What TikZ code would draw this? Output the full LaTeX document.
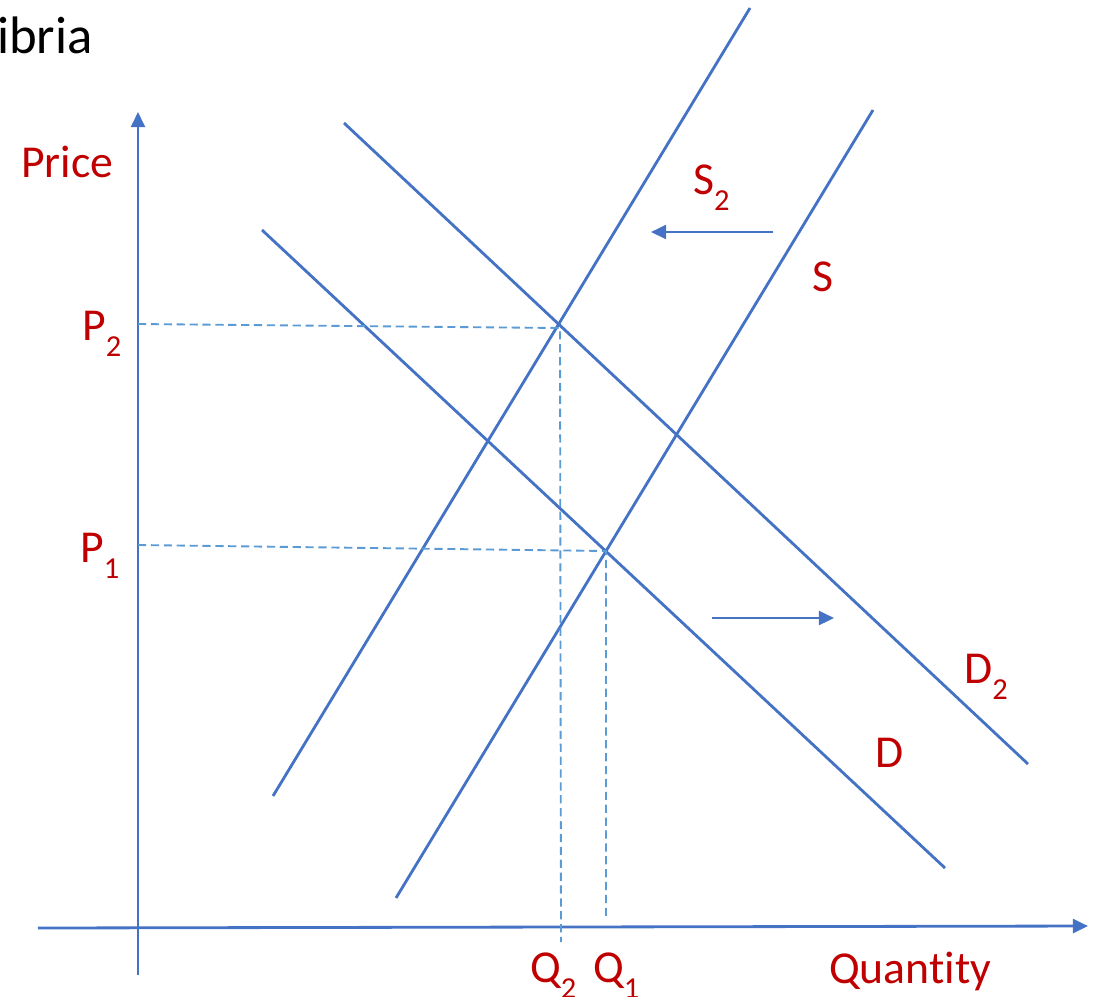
\documentclass[tikz,border=0pt]{standalone}
\usepackage{fontspec}
\setmainfont[Ligatures=NoCommon]{Carlito}
\usetikzlibrary{arrows.meta}
\definecolor{lineblue}{HTML}{4472C4}
\definecolor{dashblue}{HTML}{5B9BD5}
\definecolor{lab}{HTML}{C00000}
\newcommand{\mysub}[1]{\raisebox{-0.36em}{\fontsize{26}{26}\selectfont #1}}
\begin{document}
\begin{tikzpicture}[x=0.03cm,y=-0.03cm,
  curve/.style={draw=lineblue,line width=2.4pt},
  axis/.style={draw=lineblue,line width=2.4pt,-{Triangle[length=13pt,width=12pt]}},
  shiftarrow/.style={draw=lineblue,line width=2.4pt,-{Triangle[length=13pt,width=12pt]}},
  guide/.style={draw=dashblue,line width=1.6pt,dash pattern=on 7pt off 4pt},
  lbl/.style={text=lab,font=\fontsize{39}{39}\selectfont,inner sep=0pt,anchor=base west}]
\useasboundingbox (0,0) rectangle (1094,996);
% axes
\coordinate (yb) at (138,975); \coordinate (yt) at (138,112);
\coordinate (xl) at (38,928); \coordinate (xr) at (1088,926);
\draw[axis] (yb) -- (yt);
\draw[axis] (xl) -- (xr);
% curves
\coordinate (s2a) at (273,796); \coordinate (s2b) at (750,8);
\coordinate (sa) at (396,898); \coordinate (sb) at (873,110);
\coordinate (d2a) at (344,123); \coordinate (d2b) at (1028,764);
\coordinate (da) at (262,230); \coordinate (db) at (945,868);
\draw[curve] (s2a) -- (s2b);
\draw[curve] (sa) -- (sb);
\draw[curve] (d2a) -- (d2b);
\draw[curve] (da) -- (db);
% shift arrows
\coordinate (la) at (773,232); \coordinate (lb) at (651,232);
\coordinate (ra) at (712,618); \coordinate (rb) at (834,618);
\draw[shiftarrow] (la) -- (lb);
\draw[shiftarrow] (ra) -- (rb);
% guides
\coordinate (p2) at (138,324); \coordinate (e2) at (560,328); \coordinate (q2) at (561,942);
\coordinate (p1) at (138,545); \coordinate (e1) at (606,551); \coordinate (q1) at (606,920);
\draw[guide] (p2) -- (e2) -- (q2);
\draw[guide] (p1) -- (e1) -- (q1);
% labels
\node[inner sep=0pt,anchor=base west,font=\fontsize{45}{45}\selectfont] (title) at (-3,53) {ibria};
\node[lbl] (price) at (21,177) {Price};
\node[lbl] (lp2) at (82,340) {P\mysub{2}};
\node[lbl] (lp1) at (80,562) {P\mysub{1}};
\node[lbl] (ls2) at (693,194) {S\mysub{2}};
\node[lbl] (ls) at (812,291) {S};
\node[lbl] (ld2) at (964,683) {D\mysub{2}};
\node[lbl] (ld) at (875,767) {D};
\node[lbl] (lq2) at (530,982) {Q\mysub{2}};
\node[lbl] (lq1) at (593,982) {Q\mysub{1}};
\node[lbl] (qty) at (829,983) {Quantity};
\end{tikzpicture}
\end{document}
